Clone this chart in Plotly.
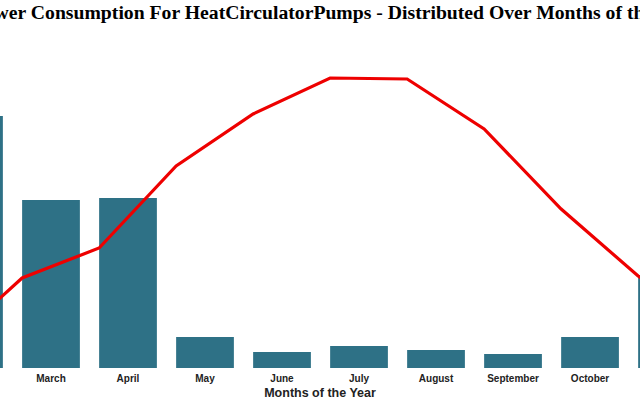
import plotly.graph_objects as go

months = ["January", "February", "March", "April", "May", "June", "July",
          "August", "September", "October", "November", "December"]
power_kwh = [2600, 2520, 1680, 1700, 310, 160, 220, 180, 140, 310, 930, 2300]
temperature = [1.0, 2.0, 9.0, 12.0, 20.2, 25.4, 29.0, 28.9, 23.9, 15.9, 9.2, 4.0]

month_idx = list(range(len(months)))
line_x = [i - 0.375 for i in month_idx]

fig = go.Figure()
fig.add_trace(go.Bar(
    x=month_idx, y=power_kwh, width=0.75,
    marker=dict(color="#2E7186", line=dict(width=0)),
    name="Power Consumption", showlegend=False,
))
fig.add_trace(go.Scatter(
    x=line_x, y=temperature, mode="lines", yaxis="y2",
    line=dict(color="#EE0000", width=3.2),
    name="Temperature", showlegend=False,
))

fig.update_layout(
    width=640, height=400,
    margin=dict(l=0, r=0, t=55, b=32),
    paper_bgcolor="white", plot_bgcolor="white",
    title=dict(
        text="Power Consumption For HeatCirculatorPumps - Distributed Over Months of the Year",
        x=0.523, xanchor="center", y=0.97, yanchor="middle",
        font=dict(family="Liberation Serif", size=19.7, color="black", weight="bold"),
    ),
    xaxis=dict(
        range=[1.3377, 9.649],
        tickmode="array", tickvals=month_idx, ticktext=months,
        tickfont=dict(family="Liberation Sans, Arial", size=10, color="#222222", weight="bold"),
        ticklabelstandoff=3,
        showgrid=False, zeroline=False, showline=False, ticks="",
        title=dict(text="Months of the Year", standoff=7,
                   font=dict(family="Liberation Sans, Arial", size=12.5, color="#222222", weight="bold")),
    ),
    yaxis=dict(range=[0, 3130], visible=False, showgrid=False, zeroline=False),
    yaxis2=dict(range=[0, 31.3], overlaying="y", visible=False, showgrid=False, zeroline=False),
)

fig.write_html(
    "out.html",
    config={"displayModeBar": False},
    post_script="document.body.style.margin='0';document.body.style.overflow='hidden';",
)
